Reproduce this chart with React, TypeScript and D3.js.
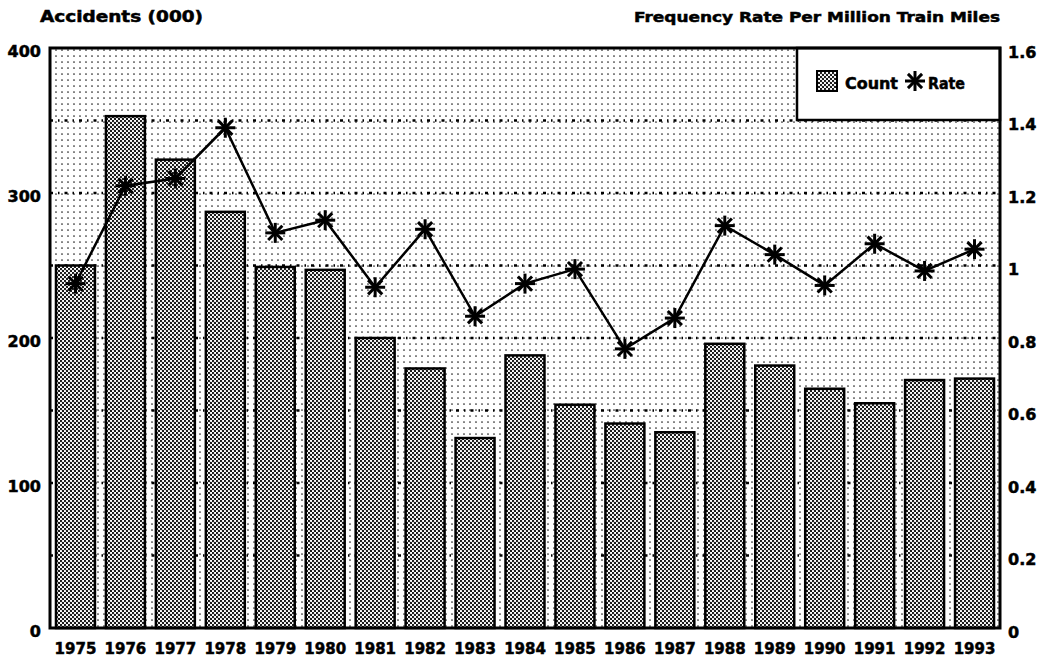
import * as d3 from "d3";

const years = ["1975","1976","1977","1978","1979","1980","1981","1982","1983","1984","1985","1986","1987","1988","1989","1990","1991","1992","1993"];
const counts = [250, 353, 323, 287, 249, 247, 200, 179, 131, 188, 154, 141, 135, 196, 181, 165, 155, 171, 172];
const rates = [0.95, 1.22, 1.24, 1.38, 1.09, 1.125, 0.94, 1.1, 0.86, 0.95, 0.99, 0.77, 0.855, 1.11, 1.03, 0.945, 1.06, 0.985, 1.045];
const leftTicks = [0, 100, 200, 300, 400];
const rightTicks = [0, 0.2, 0.4, 0.6, 0.8, 1, 1.2, 1.4, 1.6];
const gridValues = [50, 100, 150, 200, 250, 300, 350];

const W = 1043;
const H = 664;
const m = { top: 48, right: 43, bottom: 36, left: 50 };
const font = "'DejaVu Sans', sans-serif";

const Star = ({ x, y, r = 10 }: { x: number; y: number; r?: number }) => {
  const d = r * Math.SQRT1_2;
  return (
    <g stroke="#000" strokeWidth={3} strokeLinecap="butt">
      <line x1={x - r} y1={y} x2={x + r} y2={y} />
      <line x1={x} y1={y - r} x2={x} y2={y + r} />
      <line x1={x - d} y1={y - d} x2={x + d} y2={y + d} />
      <line x1={x - d} y1={y + d} x2={x + d} y2={y - d} />
    </g>
  );
};

export default function App() {
  const x = d3.scaleBand().domain(years).range([m.left, W - m.right]).paddingInner(0.22).paddingOuter(0.12);
  const yL = d3.scaleLinear().domain([0, 400]).range([H - m.bottom, m.top]);
  const yR = d3.scaleLinear().domain([0, 1.6]).range([H - m.bottom, m.top]);
  const cx = (yr: string) => (x(yr) as number) + x.bandwidth() / 2;
  const line = d3.line<number>().x((_, i) => cx(years[i])).y((d) => yR(d));

  return (
    <svg width={W} height={H} style={{ position: "absolute", left: 0, top: 0, background: "#fff" }} fontFamily={font} fontWeight="bold">
      <defs>
        <pattern id="bg" width={6} height={6} patternUnits="userSpaceOnUse">
          <rect width={6} height={6} fill="#fff" />
          <circle cx={2} cy={2} r={0.85} fill="#222" />
        </pattern>
        <pattern id="bar" width={4} height={4} patternUnits="userSpaceOnUse">
          <rect width={4} height={4} fill="#fff" />
          <circle cx={1} cy={1} r={1.15} fill="#111" />
          <circle cx={3} cy={3} r={1.15} fill="#111" />
        </pattern>
      </defs>

      <g stroke="#000" strokeWidth={0.5}>
        <text x={40} y={22} fontSize={15} textLength={163} lengthAdjust="spacingAndGlyphs">Accidents (000)</text>
        <text x={634} y={22} fontSize={14} textLength={366} lengthAdjust="spacingAndGlyphs">Frequency Rate Per Million Train Miles</text>
      </g>

      <rect x={m.left} y={m.top} width={W - m.left - m.right} height={H - m.top - m.bottom} fill="url(#bg)" />

      {gridValues.map((v) => (
        <line key={v} x1={m.left} x2={W - m.right} y1={yL(v)} y2={yL(v)} stroke="#000" strokeWidth={2.5} strokeDasharray="3 5 1.5 5" />
      ))}

      {counts.map((c, i) => (
        <rect key={years[i]} x={x(years[i])} y={yL(c)} width={x.bandwidth()} height={yL(0) - yL(c)} fill="url(#bar)" stroke="#000" strokeWidth={2.5} />
      ))}

      <path d={line(rates) || ""} fill="none" stroke="#000" strokeWidth={2.5} />
      {rates.map((r, i) => (
        <Star key={years[i]} x={cx(years[i])} y={yR(r)} />
      ))}

      <rect x={797} y={m.top} width={W - m.right - 797} height={72} fill="#fff" stroke="#000" strokeWidth={2.5} />
      <rect x={817} y={71} width={20} height={20} fill="url(#bar)" stroke="#000" strokeWidth={2} />
      <g stroke="#000" strokeWidth={0.5}>
        <text x={845} y={89} fontSize={15} textLength={53} lengthAdjust="spacingAndGlyphs">Count</text>
        <text x={928} y={89} fontSize={15} textLength={37} lengthAdjust="spacingAndGlyphs">Rate</text>
      </g>
      <Star x={915} y={81} r={10} />

      <rect x={m.left} y={m.top} width={W - m.left - m.right} height={H - m.top - m.bottom} fill="none" stroke="#000" strokeWidth={3} />

      <g stroke="#000" strokeWidth={0.5}>
        {leftTicks.map((t) => (
          <text key={t} x={41} y={yL(t) + 4} fontSize={16} textAnchor="end" dominantBaseline="middle">{t}</text>
        ))}
        {rightTicks.map((t) => (
          <text key={t} x={1008} y={yR(t) + 5} fontSize={16} dominantBaseline="middle">{t === 1 ? "1" : t === 0 ? "0" : d3.format(".1f")(t)}</text>
        ))}
        {years.map((yr) => (
          <text key={yr} x={cx(yr)} y={654} fontSize={15} textAnchor="middle">{yr}</text>
        ))}
      </g>
    </svg>
  );
}
